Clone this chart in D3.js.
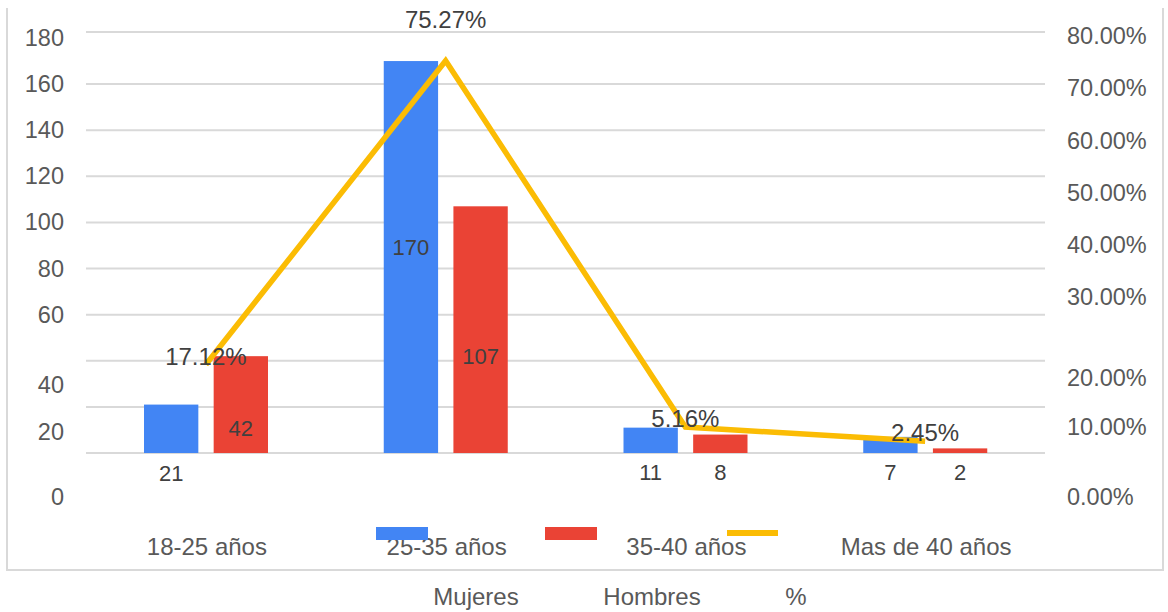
<!DOCTYPE html>
<html>
<head>
<meta charset="utf-8">
<script src="https://cdn.jsdelivr.net/npm/d3@7"></script>
<style>
  body { margin: 0; background: #fff; }
  text { font-family: "Liberation Sans", Arial, sans-serif; }
</style>
</head>
<body>
<div id="chart"></div>
<script>
const categories = ['18-25 años', '25-35 años', '35-40 años', 'Mas de 40 años'];
const seriesNames = ['Mujeres', 'Hombres'];
const mujeres = [21, 170, 11, 7];
const hombres = [42, 107, 8, 2];
const percent = [0.1712, 0.7527, 0.0516, 0.0245];
const leftTicks = [0, 20, 40, 60, 80, 100, 120, 140, 160, 180];
const rightTicks = [0, 0.1, 0.2, 0.3, 0.4, 0.5, 0.6, 0.7, 0.8];
const legendNames = ['Mujeres', 'Hombres', '%'];

const colors = { Mujeres: '#4285F4', Hombres: '#EA4335', line: '#FBBC04' };
const W = 1168, H = 612;
const plot = { left: 86, right: 1045, top: 38, bottom: 453 };

// the original render has some labels knocked out of place; keep that
const leftLabelShift = { 0: 44, 20: 25, 40: 24 };
const rightLabelShift = { 0: 43, 0.1: 25, 0.2: 28 };
const gridShift = { 180: -6 };
const barLabelDy = [[28, -198, 27, 27], [-17, -89, 27, 27]];
const pctLabelDy = [0, -33, 0, 0];

const svg = d3.select('#chart').append('svg')
    .attr('width', W)
    .attr('height', H);

// frame
svg.append('path')
    .attr('d', `M7,8 V570 H1163 V8`)
    .attr('fill', 'none')
    .attr('stroke', '#d9d9d9')
    .attr('stroke-width', 2);

const x0 = d3.scaleBand().domain(categories).range([plot.left, plot.right]);
const x1 = d3.scaleBand().domain(seriesNames).range([58, 182]).paddingInner(0.22);
const yLeft = d3.scaleLinear().domain([0, 180]).range([plot.bottom, plot.top]);
const yRight = d3.scaleLinear().domain([0, 0.8]).range([plot.bottom + 1, 36]);

// gridlines
svg.append('g').selectAll('line').data(leftTicks)
    .enter().append('line')
    .attr('x1', plot.left)
    .attr('x2', plot.right)
    .attr('y1', d => yLeft(d) + (gridShift[d] || 0))
    .attr('y2', d => yLeft(d) + (gridShift[d] || 0))
    .attr('stroke', '#d9d9d9')
    .attr('stroke-width', 2);

// axes
const leftAxisG = svg.append('g')
    .attr('transform', `translate(${plot.left},0)`)
    .call(d3.axisLeft(yLeft).tickValues(leftTicks).tickSize(0).tickPadding(22));
leftAxisG.select('.domain').remove();
leftAxisG.selectAll('.tick text')
    .attr('font-size', 23.5)
    .attr('fill', '#595959')
    .attr('y', d => leftLabelShift[d] || 0);

const rightAxisG = svg.append('g')
    .attr('transform', `translate(${plot.right},0)`)
    .call(d3.axisRight(yRight).tickValues(rightTicks).tickSize(0).tickPadding(22)
        .tickFormat(d => (d * 100).toFixed(2) + '%'));
rightAxisG.select('.domain').remove();
rightAxisG.selectAll('.tick text')
    .attr('font-size', 23.5)
    .attr('fill', '#595959')
    .attr('y', d => rightLabelShift[d] || 0);

// bars
const rows = categories.map((c, i) => ({ cat: c, values: [mujeres[i], hombres[i]] }));
const groups = svg.append('g').selectAll('g').data(rows)
    .enter().append('g')
    .attr('transform', d => `translate(${x0(d.cat)},0)`);

groups.selectAll('rect').data(d => d.values.map((v, k) => ({ key: seriesNames[k], v })))
    .enter().append('rect')
    .attr('x', d => x1(d.key))
    .attr('width', x1.bandwidth())
    .attr('y', d => yLeft(d.v))
    .attr('height', d => yLeft(0) - yLeft(d.v))
    .attr('fill', d => colors[d.key]);

// line
const cx = c => x0(c) + x0.bandwidth() / 2;
const line = d3.line()
    .x((d, i) => cx(categories[i]))
    .y(d => yRight(d));
svg.append('path')
    .datum(percent)
    .attr('d', line)
    .attr('fill', 'none')
    .attr('stroke', colors.line)
    .attr('stroke-width', 5.5);

// bar value labels
groups.each(function (d, i) {
    d3.select(this).selectAll('text.val').data(d.values)
        .enter().append('text')
        .attr('class', 'val')
        .attr('x', (v, k) => x1(seriesNames[k]) + x1.bandwidth() / 2)
        .attr('y', (v, k) => yLeft(0) + barLabelDy[k][i])
        .attr('text-anchor', 'middle')
        .attr('font-size', 22)
        .attr('fill', '#404040')
        .text(v => v);
});

// percent labels
svg.append('g').selectAll('text').data(percent)
    .enter().append('text')
    .attr('x', (d, i) => cx(categories[i]))
    .attr('y', (d, i) => yRight(d) + pctLabelDy[i])
    .attr('text-anchor', 'middle')
    .attr('font-size', 24)
    .attr('fill', '#404040')
    .text(d => (d * 100).toFixed(2) + '%');

// category labels
svg.append('g').selectAll('text').data(categories)
    .enter().append('text')
    .attr('x', d => cx(d) + 1)
    .attr('y', 555)
    .attr('text-anchor', 'middle')
    .attr('font-size', 24)
    .attr('fill', '#595959')
    .text(d => d);

// legend
const legendSwatchX = [376, 545, 727];
const legendTextX = [476, 652, 796];
const legendG = svg.append('g');
legendNames.forEach((name, i) => {
    if (i < 2) {
        legendG.append('rect')
            .attr('x', legendSwatchX[i])
            .attr('y', 527)
            .attr('width', 52)
            .attr('height', 13)
            .attr('fill', colors[name]);
    } else {
        legendG.append('line')
            .attr('x1', legendSwatchX[i])
            .attr('x2', legendSwatchX[i] + 51)
            .attr('y1', 533)
            .attr('y2', 533)
            .attr('stroke', colors.line)
            .attr('stroke-width', 6);
    }
    legendG.append('text')
        .attr('x', legendTextX[i])
        .attr('y', 605)
        .attr('text-anchor', 'middle')
        .attr('font-size', 24)
        .attr('fill', '#595959')
        .text(name);
});
</script>
</body>
</html>
